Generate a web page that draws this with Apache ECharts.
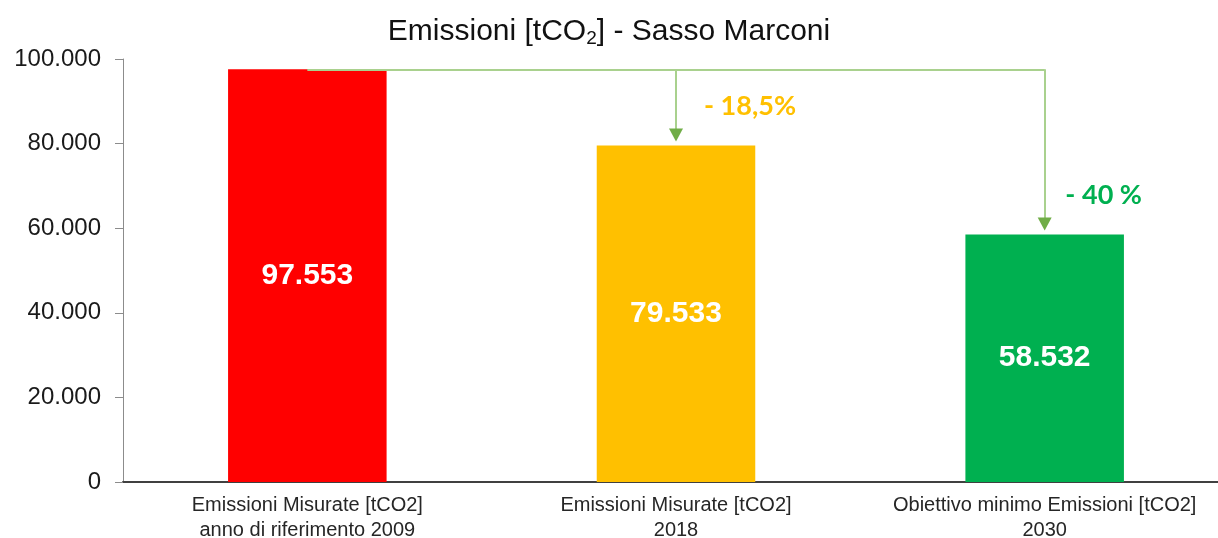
<!DOCTYPE html>
<html>
<head>
<meta charset="utf-8">
<script src="https://cdn.jsdelivr.net/npm/echarts@6/dist/echarts.min.js"></script>
<style>
  html, body { margin: 0; padding: 0; background: #fff; }
  #chart { width: 1218px; height: 538px; }
</style>
</head>
<body>
<div id="chart"></div>
<script>
// dati
const categories = [
    'Emissioni Misurate [tCO2]\nanno di riferimento 2009',
    'Emissioni Misurate [tCO2]\n2018',
    'Obiettivo minimo Emissioni [tCO2]\n2030'
];
const emissions = [97553, 79533, 58532];
const barColors = ['#FF0000', '#FFC000', '#00B050'];
const reductionLabels = ['', '- 18,5%', '- 40 %'];
const reductionColors = ['', '#FFC000', '#00B050'];

// formato italiano 97.553
const fmt = v => String(v).replace(/\B(?=(\d{3})+(?!\d))/g, '.');

const chart = echarts.init(document.getElementById('chart'), null, { renderer: 'canvas' });

const base = emissions[0];

const option = {
    animation: false,
    title: {
        text: '{t|Emissioni [tCO}{s|2}{t|] - Sasso Marconi}',
        left: 'center',
        top: 10,
        textStyle: {
            rich: {
                t: { fontFamily: 'Liberation Sans', fontWeight: 'normal', fontSize: 30, color: '#111' },
                s: { fontFamily: 'Liberation Sans', fontWeight: 'normal', fontSize: 19, color: '#111', verticalAlign: 'bottom', padding: [14, 0, 0, 0] }
            }
        }
    },
    grid: {
        left: 123,
        width: 1106,
        top: 59,
        height: 423,
        // l'asse x prosegue oltre il bordo destro, come nell'originale
        outerBoundsMode: 'none',
        containLabel: false
    },
    xAxis: {
        type: 'category',
        data: categories,
        axisLine: { lineStyle: { color: '#404040', width: 2 } },
        axisTick: { length: 7, lineStyle: { color: '#404040' } },
        axisLabel: {
            interval: 0,
            fontFamily: 'Liberation Sans',
            fontSize: 20,
            color: '#262626',
            lineHeight: 25,
            margin: 11
        }
    },
    yAxis: {
        type: 'value',
        min: 0,
        max: 100000,
        interval: 20000,
        splitLine: { show: false },
        axisLine: { show: true, lineStyle: { color: '#8c8c8c' } },
        axisTick: { show: true, length: 8, lineStyle: { color: '#8c8c8c' } },
        axisLabel: {
            formatter: fmt,
            fontFamily: 'Liberation Sans',
            fontSize: 24,
            color: '#1a1a1a',
            margin: 22
        }
    },
    series: [{
        type: 'bar',
        barWidth: '43%',
        data: emissions.map((v, i) => ({ value: v, itemStyle: { color: barColors[i] } })),
        label: {
            show: true,
            position: 'inside',
            formatter: p => fmt(p.value),
            fontFamily: 'Liberation Sans',
            fontWeight: 'bold',
            fontSize: 30,
            color: '#fff'
        },
        markLine: {
            silent: true,
            symbol: ['none', 'none'],
            lineStyle: { color: '#A9D18E', width: 2, type: 'solid' },
            label: { show: false },
            data: [
                [{ coord: [0, base] }, { coord: [2, base] }],
                [{ coord: [1, base] }, { coord: [1, emissions[1] + 2400] }],
                [{ coord: [2, base] }, { coord: [2, emissions[2] + 2400] }]
            ]
        },
        markPoint: {
            silent: true,
            data: [
                // punte delle frecce
                { coord: [1, emissions[1]], symbol: 'triangle', symbolSize: [14, 13], symbolRotate: 180, symbolOffset: [0, -10.5], itemStyle: { color: '#70AD47' }, label: { show: false } },
                { coord: [2, emissions[2]], symbol: 'triangle', symbolSize: [14, 13], symbolRotate: 180, symbolOffset: [0, -10.5], itemStyle: { color: '#70AD47' }, label: { show: false } },
                // etichette riduzione
                { coord: [1, 88900], symbolSize: 0, label: { show: true, formatter: reductionLabels[1], color: reductionColors[1], offset: [74, 0] } },
                { coord: [2, 67800], symbolSize: 0, label: { show: true, formatter: reductionLabels[2], color: reductionColors[2], offset: [59, 0] } }
            ],
            label: {
                position: 'inside',
                fontFamily: 'Lato',
                fontWeight: 'bold',
                fontSize: 27
            }
        }
    }]
};

chart.setOption(option);
</script>
</body>
</html>
